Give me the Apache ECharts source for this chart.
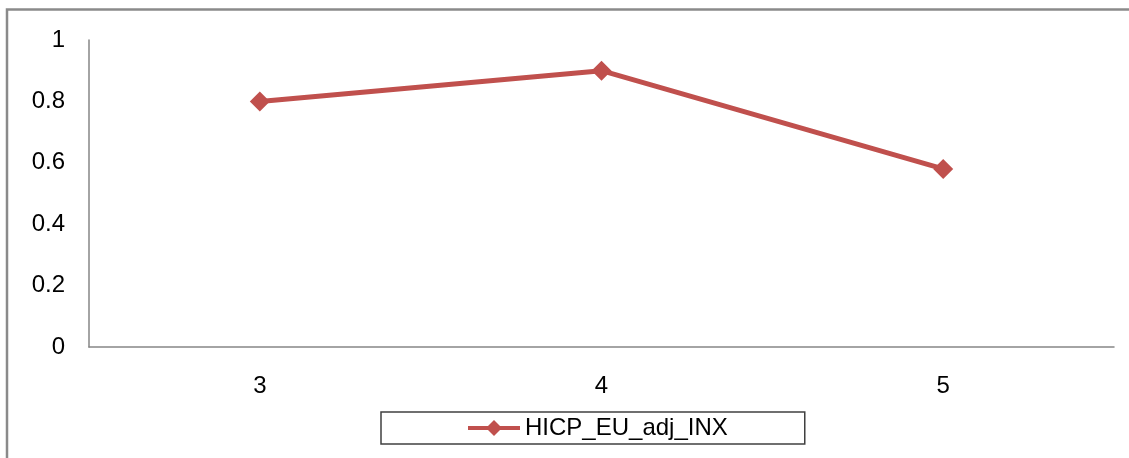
<!DOCTYPE html>
<html>
<head>
<meta charset="utf-8">
<script src="https://cdn.jsdelivr.net/npm/echarts@6/dist/echarts.min.js"></script>
<style>
html,body{margin:0;padding:0;background:#fff;}
#chart{width:1129px;height:458px;}
</style>
</head>
<body>
<div id="chart"></div>
<script>
const categories = ['3', '4', '5'];
const seriesName = 'HICP_EU_adj_INX';
const seriesValues = [0.8, 0.9, 0.58];
const yTicks = { min: 0, max: 1, interval: 0.2 };

const chart = echarts.init(document.getElementById('chart'), null, { renderer: 'canvas' });
const font = 'Liberation Sans, Arial, sans-serif';
chart.setOption({
  animation: false,
  backgroundColor: '#ffffff',
  graphic: [{
    type: 'rect',
    shape: { x: 7, y: 9.5, width: 1200, height: 500 },
    style: { fill: 'none', stroke: '#8a8a8a', lineWidth: 2.5 },
    silent: true
  }],
  grid: { left: 89, right: 15, top: 40, bottom: 111, containLabel: false },
  xAxis: {
    type: 'category',
    data: categories,
    boundaryGap: true,
    axisLine: { lineStyle: { color: '#868686', width: 1.5 } },
    axisTick: { show: false },
    axisLabel: { color: '#000', fontFamily: font, fontSize: 24, margin: 27 },
    splitLine: { show: false }
  },
  yAxis: {
    type: 'value',
    min: yTicks.min, max: yTicks.max, interval: yTicks.interval,
    axisLine: { show: true, lineStyle: { color: '#868686', width: 1.5 } },
    axisTick: { show: false },
    axisLabel: { color: '#000', fontFamily: font, fontSize: 24, margin: 24 },
    splitLine: { show: false }
  },
  legend: {
    data: [seriesName],
    left: 381, top: 412,
    padding: [4, 77, 4, 85],
    borderColor: '#404040', borderWidth: 1.5,
    itemWidth: 52, itemHeight: 20, itemGap: 5,
    lineStyle: { width: 4 },
    textStyle: { color: '#000', fontFamily: font, fontSize: 24, lineHeight: 24 }
  },
  series: [{
    name: seriesName,
    type: 'line',
    data: seriesValues,
    symbol: 'diamond',
    symbolSize: 20,
    lineStyle: { color: '#C0504D', width: 5 },
    itemStyle: { color: '#C0504D' }
  }]
});
</script>
</body>
</html>
